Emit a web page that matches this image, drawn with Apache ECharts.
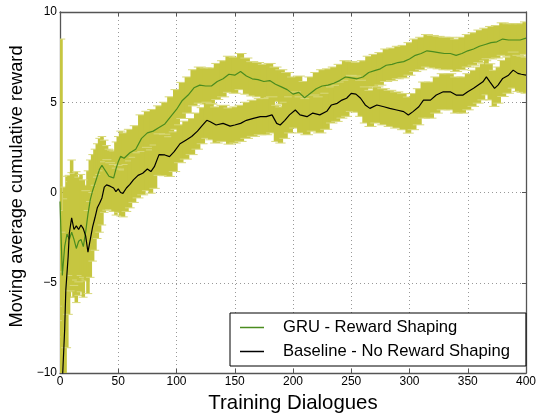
<!DOCTYPE html>
<html>
<head>
<meta charset="utf-8">
<script src="https://cdn.jsdelivr.net/npm/echarts@6/dist/echarts.min.js"></script>
<style>
  html, body { margin: 0; padding: 0; background: #fff; }
  #main { width: 540px; height: 414px; }
</style>
</head>
<body>
<div id="main"></div>
<script>
// values
var gruX = [0, 2, 4, 6, 8, 10, 12, 14, 16, 18, 20, 22, 24, 26, 28, 30, 32, 34, 36, 38, 40, 42, 44, 46, 48, 50, 52, 55,
  60, 65, 70, 75, 80, 85, 90, 95, 100, 105, 110, 115, 120, 125, 130, 135, 140, 145, 150, 155, 160, 165, 170, 175,
  180, 185, 190, 195, 200, 205, 210, 215, 220, 225, 230, 235, 240, 245, 250, 255, 260, 265, 270, 275, 280, 285,
  290, 295, 300, 305, 310, 315, 320, 325, 330, 335, 340, 345, 350, 355, 360, 365, 370, 375, 380, 385, 390, 395, 400];
var gruReward = [-0.5, -4.6, -3.0, -2.3, -2.6, -2.2, -2.6, -3.1, -2.7, -2.6, -3.0, -2.2, -1.2, -0.4, 0.1, 0.5, 0.9, 1.3,
  1.5, 1.3, 1.1, 0.9, 0.85, 0.8, 1.3, 1.7, 2.0, 1.9,
  2.2, 2.4, 3.0, 3.3, 3.4, 3.6, 3.8, 4.2, 4.6, 5.1, 5.4, 5.8, 5.95, 5.9, 5.9, 6.15, 6.3, 6.55, 6.5, 6.7, 6.45, 6.3, 6.25, 6.15,
  6.2, 6.0, 5.85, 5.7, 5.45, 5.55, 5.25, 5.5, 5.75, 5.9, 5.95, 6.05, 6.2, 6.4, 6.35, 6.3, 6.4, 6.65, 6.75, 6.85, 7.05, 7.1,
  7.2, 7.25, 7.4, 7.6, 7.7, 7.85, 7.8, 7.75, 7.7, 7.7, 7.6, 7.7, 7.85, 7.95, 8.1, 8.2, 8.3, 8.35, 8.5, 8.45, 8.45, 8.45, 8.55];
var gruErr = [9.0, 3.6, 3.3, 3.2, 3.2, 3.3, 3.2, 3.0, 3.0, 2.9, 2.8, 2.6, 2.4, 2.2, 2.0, 1.9, 1.8, 1.7, 1.6, 1.6, 1.5, 1.5, 1.5, 1.5, 1.5, 1.4, 1.4, 1.4,
  1.3, 1.3, 1.3, 1.2, 1.2, 1.2, 1.2, 1.1, 1.1, 1.0, 1.0, 1.0, 1.0, 1.0, 1.0, 1.0, 1.0, 1.0, 1.0, 1.0, 1.0, 0.95, 0.95, 0.95,
  0.95, 0.95, 0.95, 0.95, 0.95, 0.9, 0.9, 0.9, 0.9, 0.9, 0.9, 0.9, 0.9, 0.9, 0.9, 0.9, 0.9, 0.9, 0.9, 0.9, 0.9, 0.9,
  0.9, 0.9, 0.9, 0.9, 0.9, 0.9, 0.9, 0.9, 0.9, 0.9, 0.9, 0.9, 0.9, 0.9, 0.9, 0.9, 0.9, 0.9, 0.9, 0.9, 0.9, 0.9, 0.9];

var baseX = [0, 2, 4, 5, 7, 8, 10, 12, 14, 16, 18, 20, 22, 24, 26, 28, 30, 32, 34, 36, 38, 40, 43, 46, 48, 50, 52, 54, 57,
  60, 63, 67, 71, 75, 78, 81, 85, 90, 94, 98, 103, 108, 113, 118, 122, 126, 129, 134, 140, 146, 150, 155, 160, 166,
  172, 177, 182, 186, 189, 193, 197, 202, 206, 212, 217, 223, 229, 233, 238, 242, 246, 250, 254, 258, 262, 266, 272,
  278, 283, 289, 295, 299, 303, 308, 312, 318, 323, 329, 335, 340, 346, 350, 355, 359, 363, 366, 369, 373, 376, 380,
  385, 389, 393, 396, 400];
var baseReward = [-12, -10.5, -7.6, -5.4, -3.55, -2.25, -1.4, -2.05, -1.85, -2.05, -1.8, -2.0, -2.4, -3.3, -2.6, -1.9, -1.4,
  -0.85, -0.6, -0.3, 0.3, 0.42, 0.35, 0.25, 0.05, 0.2, 0.0, -0.05, 0.25,
  0.45, 0.7, 0.95, 1.07, 1.3, 1.16, 1.43, 2.1, 2.08, 1.99, 2.26, 2.7, 2.9, 3.1, 3.4, 3.7, 4.0, 3.92, 3.74, 3.83, 3.68, 3.74,
  3.83, 4.0, 4.11, 4.2, 4.2, 4.3, 3.83, 3.74, 4.0, 4.3, 4.57, 4.3, 4.2, 4.4, 4.3, 4.5, 4.85, 4.94, 5.12, 5.22, 5.49, 5.45,
  5.22, 4.85, 4.66, 4.85, 4.75, 4.66, 4.57, 4.48, 4.29, 4.48, 4.75, 5.12, 5.12, 5.4, 5.58, 5.58, 5.4, 5.4, 5.58, 5.77,
  5.95, 6.13, 6.41, 6.13, 5.77, 5.95, 6.32, 6.5, 6.78, 6.6, 6.55, 6.5];
var baseErr = [4.0, 3.4, 3.2, 3.2, 3.2, 3.2, 3.2, 3.1, 3.0, 2.9, 2.8, 2.7, 2.5, 2.3, 2.1, 1.9, 1.8, 1.7, 1.6, 1.5, 1.4, 1.4,
  1.3, 1.3, 1.3, 1.3, 1.3, 1.3, 1.3,
  1.3, 1.25, 1.25, 1.2, 1.2, 1.2, 1.2, 1.15, 1.15, 1.1, 1.1, 1.05, 1.05, 1.0, 1.0, 1.0, 1.0, 1.0, 1.0, 1.0, 1.0, 1.0,
  1.0, 1.0, 1.0, 1.0, 1.0, 1.0, 1.0, 1.0, 1.0, 1.0, 1.0, 1.0, 1.0, 1.0, 1.0, 1.0, 1.0, 1.0, 1.0, 1.0, 1.0, 1.0,
  1.0, 1.0, 1.0, 1.0, 1.0, 1.0, 1.0, 1.0, 1.0, 1.0, 1.0, 1.0, 1.0, 1.0, 1.0, 1.0, 1.0, 1.0, 1.0, 1.0,
  1.0, 1.0, 1.0, 1.0, 1.0, 1.0, 1.0, 1.0, 1.0, 1.0, 1.0, 1.0];

var myChart = echarts.init(document.getElementById('main'));

var font = 'Liberation Sans, Arial, sans-serif';
var bandColor = '#c6c640';
var capColor = '#d8d87a';

function zip(xs, ys, es) {
    return xs.map(function (x, i) { return es ? [x, ys[i], es[i]] : [x, ys[i]]; });
}

// error bars drawn as one bar per point, reaching half way to its neighbours
function errorBars(xs) {
    return function (params, api) {
        var i = params.dataIndex;
        var x = api.value(0), y = api.value(1), e = api.value(2);
        var xPrev = i > 0 ? xs[i - 1] : x;
        var xNext = i < xs.length - 1 ? xs[i + 1] : x;
        var l = api.coord([(x + xPrev) / 2, 0])[0] - 0.6;
        var r = api.coord([(x + xNext) / 2, 0])[0] + 0.6;
        if (r - l < 3) { l -= 1; r += 1; }
        var top = api.coord([x, y + e])[1];
        var bot = api.coord([x, y - e])[1];
        var cs = params.coordSys;
        var box = { x: cs.x, y: cs.y, width: cs.width, height: cs.height };
        var rect = echarts.graphic.clipRectByRect({ x: l, y: top, width: r - l, height: bot - top }, box);
        if (!rect) return;
        var kids = [{ type: 'rect', shape: rect, style: { fill: bandColor } }];
        [top, bot].forEach(function (cy) {
            if (cy >= cs.y && cy <= cs.y + cs.height) {
                kids.push({
                    type: 'line',
                    shape: { x1: Math.max(cs.x, l - 2.5), y1: cy, x2: Math.min(cs.x + cs.width, r + 2.5), y2: cy },
                    style: { stroke: capColor, lineWidth: 1 }
                });
            }
        });
        return { type: 'group', children: kids };
    };
}

var axisLine = { show: true, onZero: false, lineStyle: { color: '#555', width: 1.3 } };
var ticksIn = { show: true, inside: true, length: 4, lineStyle: { color: '#555' } };
var dotted = { show: true, lineStyle: { color: '#999', type: [1, 3], width: 1 } };

option = {
    animation: false,
    backgroundColor: '#fff',
    grid: { left: 60, right: 14, top: 12, bottom: 41, containLabel: false, outerBoundsMode: 'none' },
    legend: {
        orient: 'vertical',
        left: 230,
        top: 313,
        padding: [6, 16, 6, 10],
        itemGap: 7,
        itemWidth: 24,
        itemHeight: 1.5,
        icon: 'rect',
        borderColor: '#000',
        borderWidth: 1,
        borderRadius: 0,
        backgroundColor: '#fff',
        textStyle: { fontFamily: font, fontSize: 16.6, color: '#000', padding: [0, 0, 0, 14] },
        data: ['GRU - Reward Shaping', 'Baseline - No Reward Shaping']
    },
    xAxis: [{
        type: 'value', min: 0, max: 400, interval: 50,
        name: 'Training Dialogues', nameLocation: 'middle', nameGap: 20,
        nameTextStyle: { fontFamily: font, fontSize: 20.4, color: '#000' },
        axisLine: axisLine, axisTick: ticksIn, splitLine: dotted,
        axisLabel: { fontFamily: font, fontSize: 12, color: '#000', margin: 3 }
    }, {
        type: 'value', min: 0, max: 400, interval: 50, position: 'top',
        axisLine: axisLine, axisTick: ticksIn, splitLine: { show: false }, axisLabel: { show: false }
    }],
    yAxis: [{
        type: 'value', min: -10, max: 10, interval: 5,
        name: 'Moving average cumulative reward', nameLocation: 'middle', nameGap: 24,
        nameTextStyle: { fontFamily: font, fontSize: 18.2, color: '#000', padding: [0, 0, 0, 12] },
        axisLine: axisLine, axisTick: ticksIn, splitLine: dotted,
        axisLabel: {
            fontFamily: font, fontSize: 12, color: '#000', margin: 3,
            formatter: function (v) { return String(v).replace('-', '\u2212'); }
        }
    }, {
        type: 'value', min: -10, max: 10, interval: 5, position: 'right',
        axisLine: axisLine, axisTick: ticksIn, splitLine: { show: false }, axisLabel: { show: false }
    }],
    series: [
        {
            name: 'gru error', type: 'custom', renderItem: errorBars(gruX),
            data: zip(gruX, gruReward, gruErr), encode: { x: 0, y: 1 }, z: 1, silent: true
        },
        {
            name: 'baseline error', type: 'custom', renderItem: errorBars(baseX),
            data: zip(baseX, baseReward, baseErr), encode: { x: 0, y: 1 }, z: 1, silent: true
        },
        {
            name: 'GRU - Reward Shaping', type: 'line', symbol: 'none', z: 3,
            lineStyle: { color: '#4a8c1e', width: 1.2 }, itemStyle: { color: '#4a8c1e' },
            data: zip(gruX, gruReward)
        },
        {
            name: 'Baseline - No Reward Shaping', type: 'line', symbol: 'none', z: 4,
            lineStyle: { color: '#000', width: 1.2 }, itemStyle: { color: '#000' },
            data: zip(baseX, baseReward)
        }
    ]
};

myChart.setOption(option);
</script>
</body>
</html>
